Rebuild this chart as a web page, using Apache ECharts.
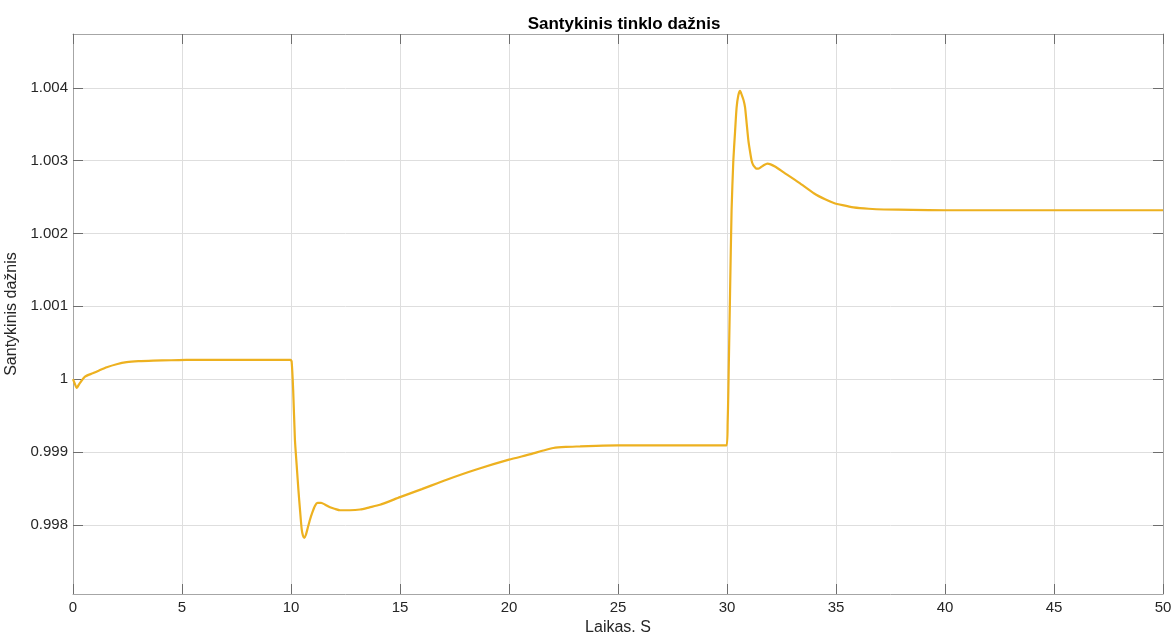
<!DOCTYPE html>
<html>
<head>
<meta charset="utf-8">
<script src="https://cdn.jsdelivr.net/npm/echarts@6/dist/echarts.min.js"></script>
<style>html,body{margin:0;padding:0;background:#fff}#c{width:1173px;height:632px}</style>
</head>
<body>
<div id="c"></div>
<script>
const titleText = 'Santykinis tinklo dažnis';
const xName = 'Laikas. S';
const yName = 'Santykinis dažnis';
const xTicks = [0, 5, 10, 15, 20, 25, 30, 35, 40, 45, 50];
const yTicks = [0.998, 0.999, 1, 1.001, 1.002, 1.003, 1.004];
const yMin = 0.99705, yMax = 1.00474;
const times = [0, 0.08, 0.17, 0.3, 0.55, 0.9, 1.2, 1.55, 2.0, 2.46, 3.0, 3.68, 4.5, 5.2, 7, 9, 9.98,
  10.03, 10.1, 10.18, 10.26, 10.34, 10.42, 10.49, 10.55, 10.61, 10.68, 10.77, 10.87, 10.98, 11.1, 11.22, 11.38, 11.55, 11.79, 12.0, 12.25, 12.7, 13.17, 13.6, 14.08, 15.0, 16.0, 17.14, 18.5, 20.0, 21.0, 21.57, 22.03, 22.6, 23.26, 24.0, 25.0, 27.5, 29.98,
  30.03, 30.06, 30.14, 30.21, 30.29, 30.37, 30.44, 30.52, 30.6, 30.68, 30.76, 30.83, 30.9, 30.98, 31.06, 31.13, 31.2, 31.28, 31.35, 31.43, 31.55, 31.7, 31.85, 32.0, 32.2, 32.6, 33.3, 34.0, 34.5, 34.9, 35.3, 35.8, 36.5, 37.2, 38.5, 40, 45, 50];
const freq = [1.0000, 0.99994, 0.99988, 0.99994, 1.000035, 1.00008, 1.00012, 1.000164, 1.000205, 1.000233, 1.000247, 1.000255, 1.00026, 1.000264, 1.000265, 1.000265, 1.000265,
  1.00024, 0.99985, 0.99917, 0.99882, 0.99848, 0.99818, 0.99794, 0.99785, 0.99782, 0.99786, 0.99796, 0.99807, 0.99817, 0.99826, 0.99830, 0.99830, 0.99828, 0.99824, 0.99822, 0.99820, 0.99820, 0.99821, 0.99824, 0.998275, 0.99838, 0.99849, 0.99862, 0.99876, 0.998895, 0.99897, 0.99902, 0.999055, 0.99907, 0.999077, 0.999085, 0.99909, 0.99909, 0.99909,
  0.99940, 0.99981, 1.00118, 1.00232, 1.00300, 1.00340, 1.00373, 1.00390, 1.00396, 1.00390, 1.00383, 1.00373, 1.00352, 1.00328, 1.00312, 1.00300, 1.00294, 1.00291, 1.00289, 1.00289, 1.00291, 1.00294, 1.00296, 1.00295, 1.00292, 1.00284, 1.00270, 1.00255, 1.00247, 1.00242, 1.00239, 1.00236, 1.00234, 1.00233, 1.002325, 1.00232, 1.00232, 1.00232];

const data = times.map((t, i) => [t, freq[i]]);
const fmtY = v => String(+(+v).toFixed(3));
const axisCol = '#a6a6a6';
const tickCol = '#6e6e6e';
const gridCol = '#dedede';
const labelCol = '#262626';
const font = 'Liberation Sans, Arial, sans-serif';

const chart = echarts.init(document.getElementById('c'), null, {renderer: 'canvas'});
chart.setOption({
  animation: false,
  backgroundColor: '#fff',
  title: {
    text: titleText, left: 619, top: 11, textAlign: 'center',
    textStyle: {fontFamily: font, fontSize: 17, fontWeight: 'bold', color: '#000'}
  },
  grid: {left: 73, right: 10, top: 34, bottom: 38, containLabel: false, outerBoundsMode: 'none'},
  xAxis: [{
    type: 'value', min: 0, max: 50, interval: 5, position: 'bottom',
    name: xName, nameLocation: 'middle', nameGap: 22,
    nameTextStyle: {fontFamily: font, fontSize: 16, color: labelCol},
    axisLine: {show: true, onZero: false, lineStyle: {color: axisCol, width: 1}},
    axisTick: {show: true, inside: true, length: 10, lineStyle: {color: tickCol}},
    axisLabel: {fontFamily: font, fontSize: 15, color: labelCol, margin: 6},
    splitLine: {show: true, lineStyle: {color: gridCol, width: 1}}
  }, {
    type: 'value', min: 0, max: 50, interval: 5, position: 'top',
    axisLine: {show: true, onZero: false, lineStyle: {color: axisCol, width: 1}},
    axisTick: {show: true, inside: true, length: 10, lineStyle: {color: tickCol}},
    axisLabel: {show: false}, splitLine: {show: false}
  }],
  yAxis: [{
    type: 'value', min: yMin, max: yMax, position: 'left',
    name: yName, nameLocation: 'middle', nameGap: 40, nameRotate: 90,
    nameTextStyle: {fontFamily: font, fontSize: 16, color: labelCol},
    axisLine: {show: true, onZero: false, lineStyle: {color: axisCol, width: 1}},
    axisTick: {show: true, inside: true, length: 10, lineStyle: {color: tickCol}, customValues: yTicks},
    axisLabel: {fontFamily: font, fontSize: 15, color: labelCol, margin: 5, customValues: yTicks, formatter: fmtY},
    splitLine: {show: true, lineStyle: {color: gridCol, width: 1}}
  }, {
    type: 'value', min: yMin, max: yMax, position: 'right',
    axisLine: {show: true, onZero: false, lineStyle: {color: axisCol, width: 1}},
    axisTick: {show: true, inside: true, length: 10, lineStyle: {color: tickCol}, customValues: yTicks},
    axisLabel: {show: false, customValues: yTicks}, splitLine: {show: false}
  }],
  series: [{
    type: 'line', data: data, showSymbol: false, smooth: 0.2,
    xAxisIndex: 0, yAxisIndex: 0,
    lineStyle: {color: '#EDB120', width: 2.2},
    itemStyle: {color: '#EDB120'}
  }]
});
</script>
</body>
</html>
